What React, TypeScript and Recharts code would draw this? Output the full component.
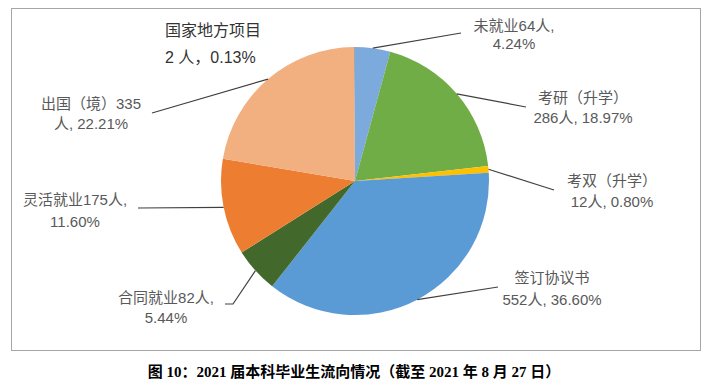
import React from 'react';
import { PieChart, Pie, Cell } from 'recharts';

const names = ['未就业', '考研（升学）', '考双（升学）', '签订协议书', '合同就业', '灵活就业', '出国（境）', '国家地方项目'];
const counts = [64, 286, 12, 552, 82, 175, 335, 2];
const labelLines: string[][] = [
  ['未就业64人,', '4.24%'],
  ['考研（升学）', '286人, 18.97%'],
  ['考双（升学）', '12人, 0.80%'],
  ['签订协议书', '552人, 36.60%'],
  ['合同就业82人,', '5.44%'],
  ['灵活就业175人,', '11.60%'],
  ['出国（境）335', '人, 22.21%'],
  ['国家地方项目', '2 人，0.13%'],
];
const colors = ['#7DAADC', '#70AD47', '#FFC000', '#5B9BD5', '#43682B', '#ED7D31', '#F2AF80', '#A5A5A5'];

const pieData = names.map((name, i) => ({ name, value: counts[i] }));

// label placement: text centre, line gap, leader-line points after the arc point
const labelPos = [
  { x: 514, y: 25, gap: 18, anchor: 'middle', pts: [[461, 33]] },
  { x: 583, y: 97, gap: 20, anchor: 'middle', pts: [[526, 107]] },
  { x: 612, y: 180, gap: 21, anchor: 'middle', pts: [[554, 190]] },
  { x: 552, y: 277, gap: 22, anchor: 'middle', pts: [[498, 287]] },
  { x: 166, y: 297, gap: 20, anchor: 'middle', pts: [[233, 304], [225, 304]] },
  { x: 75, y: 199, gap: 22, anchor: 'middle', pts: [[138, 208]] },
  { x: 91, y: 103, gap: 20, anchor: 'middle', pts: [[152, 113]] },
  { x: 165, y: 30, gap: 27, anchor: 'start', pts: [] },
];

const RAD = Math.PI / 180;

const renderLabel = (props: any) => {
  const { cx, cy, midAngle, outerRadius, index } = props;
  const pos = labelPos[index];
  const sx = cx + outerRadius * Math.cos(-midAngle * RAD);
  const sy = cy + outerRadius * Math.sin(-midAngle * RAD);
  const big = index === 7;
  const points = pos.pts.length ? [[sx, sy], ...pos.pts].map((p) => p.join(',')).join(' ') : '';
  return (
    <g key={`lbl-${index}`}>
      {points && <polyline points={points} fill="none" stroke="#404040" strokeWidth={1.2} />}
      {labelLines[index].map((t, j) => (
        <text
          key={j}
          x={pos.x}
          y={pos.y + j * pos.gap}
          textAnchor={pos.anchor}
          dominantBaseline="central"
          fill={big ? '#333333' : '#595959'}
          fontSize={big ? 16 : 15}
          fontFamily='"Liberation Sans", "Noto Sans CJK SC", sans-serif'
        >
          {t}
        </text>
      ))}
    </g>
  );
};

export default function App() {
  return (
    <div style={{ position: 'absolute', left: 0, top: 0, width: 722, height: 387, background: '#fff' }}>
      <div
        style={{
          position: 'absolute',
          left: 11,
          top: 8,
          width: 688,
          height: 341,
          border: '1.5px solid #A6A6A6',
        }}
      />
      <div style={{ position: 'absolute', left: 0, top: 0 }}>
        <PieChart width={722} height={387} margin={{ top: 0, right: 0, bottom: 0, left: 0 }}>
          <Pie
            data={pieData}
            dataKey="value"
            cx={355}
            cy={181}
            outerRadius={134}
            startAngle={90}
            endAngle={-270}
            stroke="none"
            label={renderLabel}
            labelLine={false}
            isAnimationActive={false}
          >
            {pieData.map((d, i) => (
              <Cell key={`cell-${i}`} fill={colors[i]} />
            ))}
          </Pie>
        </PieChart>
      </div>
      <div
        style={{
          position: 'absolute',
          left: 0,
          width: 708,
          top: 360,
          textAlign: 'center',
          fontFamily: '"Liberation Serif", "Noto Sans CJK SC", serif',
          fontWeight: 'bold',
          fontSize: 15,
          color: '#000',
          whiteSpace: 'nowrap',
        }}
      >
        图 10：2021 届本科毕业生流向情况（截至 2021 年 8 月 27 日）
      </div>
    </div>
  );
}
